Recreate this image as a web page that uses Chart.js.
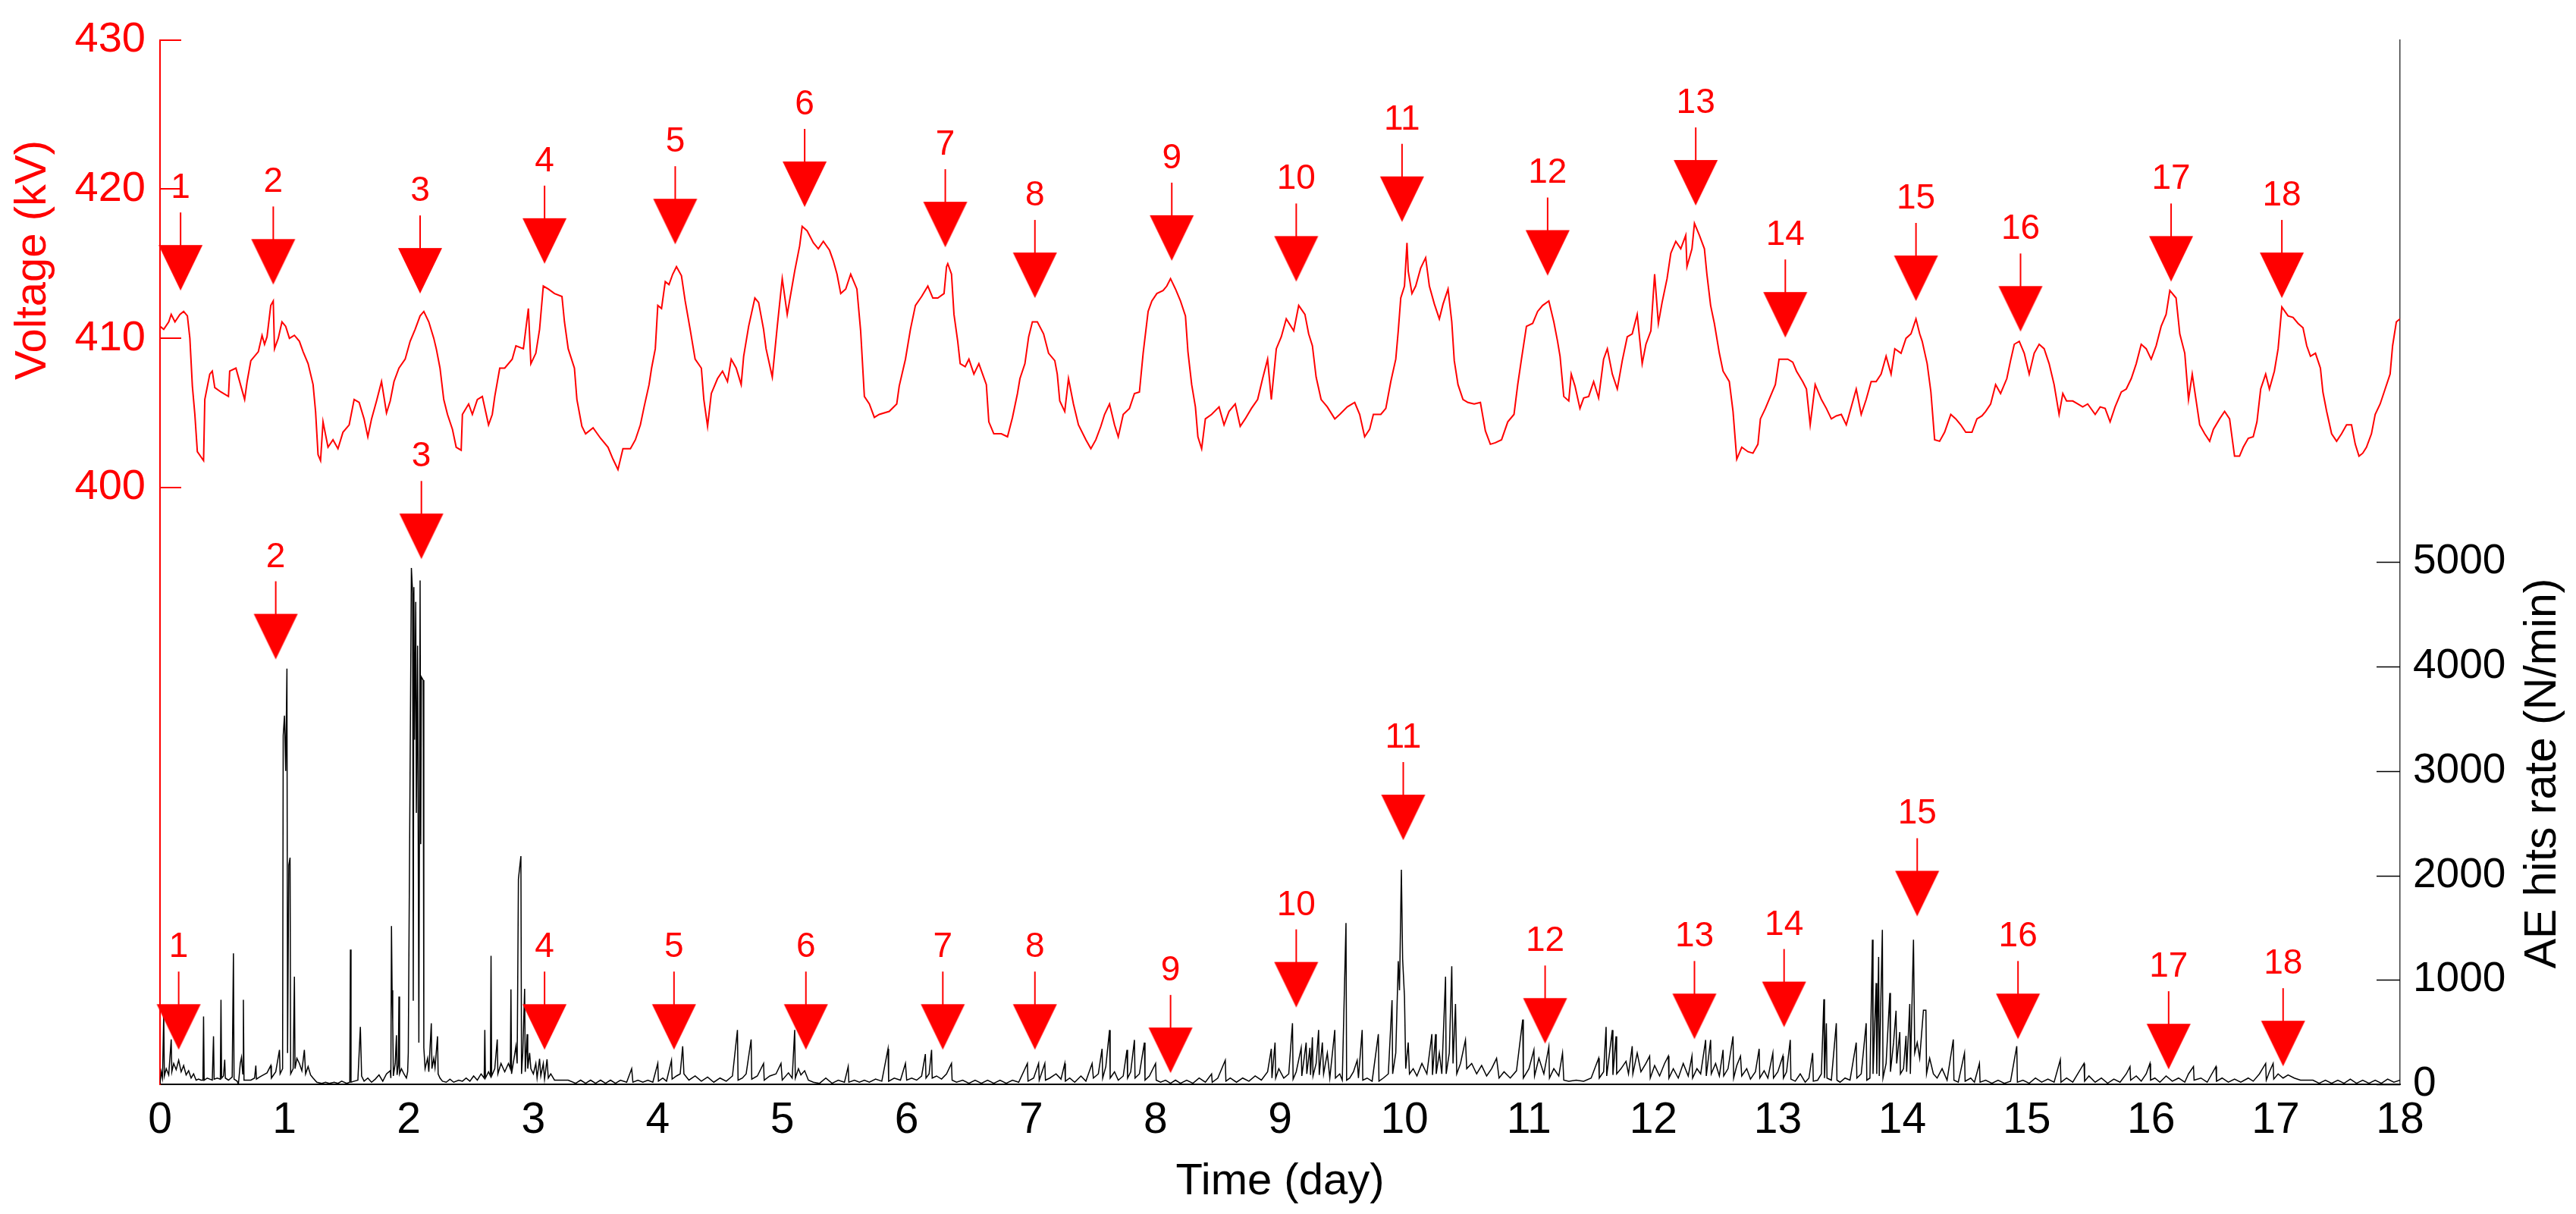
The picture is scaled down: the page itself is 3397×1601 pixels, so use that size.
<!DOCTYPE html>
<html>
<head>
<meta charset="utf-8">
<script src="https://cdn.jsdelivr.net/npm/chart.js@4.4.1/dist/chart.umd.min.js"></script>
<style>
  html, body { margin: 0; padding: 0; background: #fff; }
  #wrap { width: 3397px; height: 1601px; }
</style>
</head>
<body>
<div id="wrap"><canvas id="chart" width="3397" height="1601"></canvas></div>
<script>
// Voltage (kV)
const voltDay = [
  0.00, 0.03, 0.07, 0.09, 0.12, 0.16, 0.19, 0.22, 0.24, 0.26, 0.28, 0.30,
  0.35, 0.36, 0.40, 0.42, 0.44, 0.49, 0.55, 0.56, 0.61, 0.65, 0.68, 0.70,
  0.73, 0.79, 0.82, 0.84, 0.86, 0.89, 0.91, 0.92, 0.95, 0.98, 1.01, 1.04,
  1.08, 1.12, 1.15, 1.19, 1.23, 1.25, 1.27, 1.29, 1.31, 1.35, 1.39, 1.43,
  1.47, 1.52, 1.56, 1.60, 1.64, 1.67, 1.70, 1.74, 1.78, 1.82, 1.85, 1.88,
  1.92, 1.97, 2.01, 2.05, 2.09, 2.12, 2.16, 2.20, 2.22, 2.25, 2.28, 2.31,
  2.35, 2.38, 2.42, 2.43, 2.48, 2.51, 2.55, 2.59, 2.64, 2.67, 2.69, 2.73,
  2.77, 2.83, 2.86, 2.92, 2.96, 2.98, 3.02, 3.05, 3.08, 3.12, 3.17, 3.23,
  3.25, 3.28, 3.33, 3.35, 3.39, 3.42, 3.48, 3.54, 3.60, 3.64, 3.68, 3.72,
  3.78, 3.82, 3.86, 3.89, 3.93, 3.95, 3.98, 4.00, 4.03, 4.06, 4.09, 4.12,
  4.15, 4.19, 4.22, 4.26, 4.30, 4.35, 4.37, 4.40, 4.43, 4.48, 4.52, 4.56,
  4.59, 4.63, 4.67, 4.69, 4.73, 4.78, 4.81, 4.85, 4.87, 4.92, 4.96, 5.00,
  5.04, 5.10, 5.14, 5.16, 5.20, 5.25, 5.29, 5.33, 5.38, 5.41, 5.44, 5.47,
  5.51, 5.55, 5.60, 5.63, 5.66, 5.70, 5.74, 5.78, 5.86, 5.92, 5.94, 5.99,
  6.03, 6.07, 6.12, 6.17, 6.21, 6.25, 6.30, 6.32, 6.33, 6.36, 6.38, 6.41,
  6.43, 6.47, 6.50, 6.54, 6.58, 6.64, 6.66, 6.70, 6.76, 6.81, 6.85, 6.89,
  6.91, 6.95, 6.98, 7.01, 7.05, 7.10, 7.14, 7.19, 7.21, 7.23, 7.27, 7.30,
  7.34, 7.38, 7.44, 7.48, 7.52, 7.56, 7.59, 7.63, 7.67, 7.70, 7.74, 7.79,
  7.83, 7.87, 7.90, 7.94, 7.97, 8.01, 8.06, 8.09, 8.12, 8.16, 8.20, 8.24,
  8.26, 8.29, 8.32, 8.34, 8.37, 8.40, 8.45, 8.51, 8.55, 8.59, 8.64, 8.68,
  8.72, 8.77, 8.82, 8.86, 8.90, 8.93, 8.97, 9.01, 9.05, 9.11, 9.15, 9.20,
  9.23, 9.26, 9.29, 9.33, 9.38, 9.44, 9.48, 9.54, 9.60, 9.64, 9.68, 9.72,
  9.75, 9.81, 9.85, 9.89, 9.93, 9.95, 9.97, 10.00, 10.02, 10.03, 10.06, 10.09,
  10.13, 10.17, 10.20, 10.24, 10.28, 10.31, 10.35, 10.38, 10.40, 10.43, 10.47, 10.51,
  10.56, 10.61, 10.65, 10.69, 10.73, 10.78, 10.83, 10.88, 10.91, 10.94, 10.98, 11.03,
  11.07, 11.11, 11.16, 11.20, 11.23, 11.25, 11.28, 11.32, 11.34, 11.37, 11.41, 11.44,
  11.48, 11.52, 11.56, 11.60, 11.63, 11.67, 11.71, 11.75, 11.79, 11.83, 11.87, 11.91,
  11.94, 11.98, 12.01, 12.04, 12.07, 12.11, 12.14, 12.18, 12.22, 12.26, 12.27, 12.31,
  12.33, 12.37, 12.41, 12.43, 12.46, 12.49, 12.53, 12.56, 12.61, 12.64, 12.67, 12.71,
  12.76, 12.80, 12.84, 12.86, 12.90, 12.94, 12.98, 13.01, 13.08, 13.12, 13.15, 13.20,
  13.23, 13.26, 13.30, 13.35, 13.39, 13.43, 13.47, 13.51, 13.55, 13.59, 13.63, 13.67,
  13.71, 13.75, 13.79, 13.83, 13.87, 13.91, 13.94, 13.99, 14.03, 14.07, 14.11, 14.14,
  14.16, 14.20, 14.23, 14.26, 14.30, 14.34, 14.39, 14.43, 14.47, 14.51, 14.56, 14.60,
  14.64, 14.67, 14.71, 14.75, 14.79, 14.84, 14.87, 14.90, 14.94, 14.98, 15.02, 15.06,
  15.10, 15.14, 15.18, 15.22, 15.26, 15.29, 15.32, 15.37, 15.41, 15.45, 15.49, 15.55,
  15.59, 15.63, 15.67, 15.71, 15.76, 15.80, 15.84, 15.88, 15.92, 15.96, 16.00, 16.04,
  16.08, 16.12, 16.15, 16.20, 16.23, 16.27, 16.30, 16.33, 16.36, 16.39, 16.43, 16.47,
  16.50, 16.55, 16.59, 16.63, 16.67, 16.71, 16.74, 16.78, 16.82, 16.85, 16.88, 16.92,
  16.95, 16.99, 17.02, 17.05, 17.10, 17.14, 17.18, 17.22, 17.25, 17.28, 17.32, 17.36,
  17.38, 17.41, 17.45, 17.49, 17.53, 17.57, 17.61, 17.64, 17.67, 17.70, 17.73, 17.77,
  17.80, 17.84, 17.88, 17.92, 17.94, 17.97, 18.00
];
const voltKV = [
  410.8, 410.6, 411.1, 411.6, 411.1, 411.6, 411.8, 411.5, 410.0, 406.8, 404.9, 402.4,
  401.8, 405.9, 407.6, 407.8, 406.7, 406.4, 406.1, 407.8, 408.0, 406.8, 405.9, 407.1,
  408.5, 409.1, 410.2, 409.6, 410.1, 412.2, 412.5, 409.3, 410.0, 411.1, 410.8, 410.0,
  410.2, 409.8, 409.1, 408.3, 406.9, 405.1, 402.2, 401.8, 404.4, 402.7, 403.2, 402.6,
  403.7, 404.2, 405.9, 405.7, 404.6, 403.4, 404.6, 405.8, 407.1, 405.0, 405.8, 407.1,
  408.0, 408.6, 409.8, 410.6, 411.5, 411.8, 411.1, 410.0, 409.3, 408.0, 405.9, 404.9,
  403.9, 402.7, 402.5, 404.9, 405.6, 404.9, 405.9, 406.1, 404.2, 404.9, 406.1, 408.0,
  408.0, 408.6, 409.5, 409.3, 412.0, 408.3, 409.0, 410.6, 413.5, 413.3, 413.0, 412.8,
  411.1, 409.3, 408.0, 405.9, 404.1, 403.6, 404.0, 403.3, 402.7, 401.9, 401.2, 402.6,
  402.6, 403.2, 404.2, 405.4, 406.9, 408.0, 409.3, 412.2, 412.0, 413.8, 413.6, 414.3,
  414.8, 414.2, 412.5, 410.6, 408.6, 408.0, 405.9, 404.1, 406.3, 407.3, 407.8, 407.1,
  408.6, 408.0, 406.9, 408.8, 410.8, 412.7, 412.4, 410.6, 409.3, 407.4, 410.8, 414.0,
  411.6, 414.5, 416.2, 417.5, 417.2, 416.4, 416.0, 416.5, 415.9, 415.2, 414.3, 413.0,
  413.3, 414.3, 413.3, 410.5, 406.1, 405.6, 404.7, 404.9, 405.1, 405.6, 406.8, 408.6,
  410.6, 412.2, 412.8, 413.5, 412.7, 412.7, 413.0, 414.8, 415.0, 414.3, 411.6, 409.8,
  408.3, 408.1, 408.6, 407.6, 408.3, 406.9, 404.4, 403.6, 403.6, 403.4, 404.7, 406.3,
  407.3, 408.3, 410.1, 411.1, 411.1, 410.3, 409.0, 408.5, 407.6, 405.8, 405.1, 407.3,
  405.6, 404.2, 403.2, 402.6, 403.2, 404.1, 404.9, 405.6, 404.2, 403.4, 404.9, 405.3,
  406.3, 406.4, 409.0, 411.8, 412.5, 413.0, 413.2, 413.5, 414.0, 413.3, 412.5, 411.5,
  409.1, 406.9, 405.4, 403.4, 402.6, 404.6, 404.9, 405.4, 404.2, 405.1, 405.6, 404.1,
  404.6, 405.3, 405.9, 407.3, 408.6, 405.9, 409.3, 410.1, 411.3, 410.5, 412.2, 411.6,
  410.3, 409.5, 407.4, 405.9, 405.4, 404.6, 404.9, 405.4, 405.7, 404.9, 403.4, 403.9,
  404.9, 404.9, 405.3, 407.1, 408.6, 410.5, 412.7, 413.5, 416.4, 414.5, 413.0, 413.5,
  414.7, 415.4, 413.5, 412.3, 411.3, 412.3, 413.3, 411.1, 408.5, 406.9, 405.9, 405.7,
  405.6, 405.7, 403.8, 402.9, 403.0, 403.2, 404.4, 404.9, 406.9, 408.6, 410.8, 411.0,
  411.8, 412.2, 412.5, 411.1, 409.8, 408.8, 406.1, 405.8, 407.6, 406.8, 405.3, 406.0,
  406.1, 407.1, 406.0, 408.6, 409.3, 407.6, 406.6, 408.5, 410.1, 410.3, 411.6, 408.3,
  409.6, 410.5, 414.3, 411.0, 412.4, 414.0, 415.7, 416.5, 416.0, 416.9, 414.8, 416.0,
  417.7, 416.9, 416.0, 414.3, 412.2, 411.0, 409.0, 407.8, 407.1, 405.1, 401.9, 402.7,
  402.4, 402.3, 402.9, 404.6, 405.3, 406.1, 406.9, 408.6, 408.6, 408.4, 407.8, 407.1,
  406.6, 404.2, 406.9, 405.9, 405.3, 404.6, 404.8, 404.9, 404.2, 405.4, 406.6, 404.9,
  405.9, 407.1, 407.1, 407.6, 408.8, 407.6, 409.3, 409.0, 410.0, 410.3, 411.3, 410.3,
  409.8, 408.3, 406.4, 403.2, 403.1, 403.7, 404.9, 404.6, 404.2, 403.7, 403.7, 404.6,
  404.8, 405.1, 405.6, 406.9, 406.3, 407.3, 408.5, 409.6, 409.8, 409.0, 407.6, 409.0,
  409.6, 409.3, 408.3, 406.9, 404.9, 406.3, 405.8, 405.8, 405.6, 405.4, 405.6, 404.9,
  405.4, 405.3, 404.4, 405.4, 406.4, 406.6, 407.3, 408.3, 409.6, 409.3, 408.6, 409.5,
  410.8, 411.6, 413.2, 412.7, 410.3, 409.0, 405.9, 407.6, 405.9, 404.2, 403.6, 403.1,
  403.9, 404.6, 405.1, 404.6, 402.1, 402.1, 402.7, 403.3, 403.4, 404.4, 406.6, 407.6,
  406.6, 407.8, 409.3, 412.1, 411.5, 411.4, 411.0, 410.7, 409.5, 408.8, 409.0, 408.0,
  406.4, 405.1, 403.6, 403.1, 403.6, 404.2, 404.2, 402.9, 402.1, 402.3, 402.7, 403.6,
  404.9, 405.6, 406.6, 407.6, 409.5, 411.1, 411.3
];

// AE hits rate (N/min)
const aeDay = [
  0.00, 0.01, 0.02, 0.03, 0.035, 0.05, 0.07, 0.09, 0.095, 0.11, 0.13, 0.15,
  0.17, 0.19, 0.21, 0.23, 0.25, 0.27, 0.29, 0.31, 0.33, 0.345, 0.35, 0.355,
  0.38, 0.40, 0.42, 0.43, 0.435, 0.46, 0.485, 0.49, 0.495, 0.51, 0.52, 0.525,
  0.55, 0.58, 0.59, 0.595, 0.62, 0.63, 0.645, 0.655, 0.665, 0.67, 0.675, 0.70,
  0.73, 0.76, 0.77, 0.775, 0.80, 0.83, 0.86, 0.89, 0.895, 0.93, 0.96, 0.965,
  0.985, 0.99, 1.00, 1.01, 1.02, 1.025, 1.035, 1.045, 1.05, 1.07, 1.08, 1.085,
  1.10, 1.12, 1.14, 1.16, 1.17, 1.19, 1.21, 1.23, 1.26, 1.30, 1.33, 1.36,
  1.40, 1.43, 1.46, 1.50, 1.525, 1.53, 1.535, 1.56, 1.59, 1.61, 1.62, 1.64,
  1.67, 1.70, 1.73, 1.76, 1.79, 1.82, 1.85, 1.855, 1.86, 1.865, 1.87, 1.875,
  1.89, 1.90, 1.905, 1.915, 1.92, 1.925, 1.94, 1.96, 1.98, 1.99, 1.995, 2.02,
  2.03, 2.035, 2.04, 2.045, 2.055, 2.06, 2.07, 2.08, 2.09, 2.095, 2.10, 2.115,
  2.12, 2.13, 2.15, 2.16, 2.18, 2.185, 2.20, 2.21, 2.23, 2.235, 2.25, 2.27,
  2.30, 2.33, 2.36, 2.40, 2.43, 2.46, 2.49, 2.52, 2.55, 2.58, 2.605, 2.61,
  2.615, 2.64, 2.655, 2.66, 2.665, 2.69, 2.71, 2.715, 2.74, 2.77, 2.80, 2.815,
  2.82, 2.825, 2.845, 2.86, 2.87, 2.88, 2.90, 2.905, 2.915, 2.93, 2.935, 2.95,
  2.955, 2.97, 2.98, 3.00, 3.02, 3.03, 3.05, 3.06, 3.08, 3.09, 3.11, 3.12,
  3.14, 3.17, 3.22, 3.28, 3.34, 3.38, 3.42, 3.46, 3.50, 3.54, 3.58, 3.62,
  3.66, 3.70, 3.75, 3.79, 3.80, 3.84, 3.88, 3.92, 3.96, 4.00, 4.005, 4.04,
  4.07, 4.11, 4.115, 4.15, 4.18, 4.20, 4.21, 4.25, 4.30, 4.35, 4.40, 4.45,
  4.50, 4.55, 4.60, 4.64, 4.645, 4.68, 4.71, 4.75, 4.755, 4.80, 4.85, 4.855,
  4.90, 4.95, 4.99, 5.00, 5.05, 5.08, 5.10, 5.105, 5.13, 5.15, 5.18, 5.21,
  5.25, 5.30, 5.35, 5.40, 5.45, 5.50, 5.53, 5.535, 5.58, 5.62, 5.66, 5.70,
  5.75, 5.80, 5.85, 5.855, 5.90, 5.95, 5.99, 6.00, 6.04, 6.08, 6.12, 6.15,
  6.155, 6.18, 6.20, 6.205, 6.24, 6.28, 6.32, 6.36, 6.365, 6.40, 6.45, 6.50,
  6.55, 6.60, 6.65, 6.70, 6.75, 6.80, 6.85, 6.90, 6.97, 6.975, 7.02, 7.06,
  7.065, 7.11, 7.115, 7.15, 7.20, 7.24, 7.27, 7.275, 7.31, 7.35, 7.40, 7.44,
  7.49, 7.50, 7.54, 7.57, 7.575, 7.60, 7.63, 7.635, 7.67, 7.70, 7.74, 7.77,
  7.775, 7.80, 7.83, 7.835, 7.87, 7.91, 7.915, 7.95, 8.00, 8.005, 8.04, 8.08,
  8.12, 8.16, 8.20, 8.25, 8.30, 8.35, 8.40, 8.45, 8.455, 8.50, 8.56, 8.565,
  8.60, 8.65, 8.70, 8.75, 8.80, 8.85, 8.90, 8.93, 8.935, 8.96, 8.965, 8.99,
  9.03, 9.07, 9.10, 9.105, 9.13, 9.17, 9.175, 9.21, 9.215, 9.24, 9.245, 9.26,
  9.265, 9.29, 9.31, 9.315, 9.34, 9.35, 9.38, 9.40, 9.44, 9.445, 9.48, 9.50,
  9.53, 9.535, 9.56, 9.59, 9.62, 9.63, 9.66, 9.665, 9.70, 9.74, 9.79, 9.795,
  9.83, 9.87, 9.90, 9.905, 9.93, 9.95, 9.96, 9.975, 9.985, 10.00, 10.01, 10.03,
  10.04, 10.07, 10.10, 10.14, 10.18, 10.22, 10.225, 10.25, 10.255, 10.28, 10.30, 10.33,
  10.335, 10.36, 10.38, 10.39, 10.41, 10.42, 10.45, 10.49, 10.50, 10.54, 10.58, 10.62,
  10.66, 10.70, 10.74, 10.76, 10.80, 10.85, 10.90, 10.95, 10.955, 11.00, 11.04, 11.045,
  11.08, 11.12, 11.16, 11.165, 11.20, 11.24, 11.27, 11.28, 11.32, 11.38, 11.44, 11.50,
  11.56, 11.565, 11.60, 11.62, 11.625, 11.67, 11.675, 11.70, 11.705, 11.74, 11.78, 11.80,
  11.83, 11.835, 11.87, 11.90, 11.94, 11.97, 11.975, 12.01, 12.05, 12.09, 12.12, 12.125,
  12.16, 12.20, 12.24, 12.28, 12.31, 12.315, 12.35, 12.38, 12.42, 12.425, 12.46, 12.465,
  12.50, 12.53, 12.56, 12.565, 12.60, 12.64, 12.645, 12.67, 12.70, 12.71, 12.75, 12.78,
  12.82, 12.85, 12.855, 12.89, 12.92, 12.96, 12.965, 13.00, 13.04, 13.045, 13.07, 13.10,
  13.105, 13.14, 13.18, 13.22, 13.25, 13.28, 13.285, 13.32, 13.35, 13.37, 13.375, 13.39,
  13.395, 13.43, 13.47, 13.475, 13.50, 13.54, 13.58, 13.63, 13.635, 13.67, 13.71, 13.715,
  13.74, 13.76, 13.765, 13.79, 13.795, 13.81, 13.815, 13.84, 13.845, 13.87, 13.90, 13.905,
  13.93, 13.95, 13.955, 13.98, 13.985, 14.01, 14.03, 14.035, 14.06, 14.065, 14.09, 14.10,
  14.12, 14.14, 14.17, 14.19, 14.195, 14.22, 14.25, 14.28, 14.32, 14.36, 14.41, 14.415,
  14.45, 14.50, 14.505, 14.55, 14.58, 14.62, 14.625, 14.67, 14.72, 14.77, 14.82, 14.87,
  14.92, 14.925, 14.97, 15.02, 15.07, 15.12, 15.17, 15.22, 15.27, 15.275, 15.32, 15.37,
  15.42, 15.46, 15.465, 15.50, 15.55, 15.60, 15.65, 15.70, 15.75, 15.80, 15.83, 15.835,
  15.88, 15.92, 15.96, 15.99, 15.995, 16.03, 16.07, 16.12, 16.17, 16.22, 16.27, 16.30,
  16.34, 16.345, 16.40, 16.45, 16.52, 16.525, 16.57, 16.62, 16.67, 16.72, 16.78, 16.82,
  16.87, 16.92, 16.925, 16.95, 16.98, 16.985, 17.02, 17.06, 17.10, 17.15, 17.20, 17.25,
  17.30, 17.35, 17.40, 17.45, 17.50, 17.55, 17.60, 17.65, 17.70, 17.75, 17.80, 17.85,
  17.90, 17.95, 18.00
];
const aeRate = [
  0, 120, 60, 670, 80, 150, 90, 430, 120, 200, 140, 230,
  120, 180, 90, 130, 60, 100, 40, 50, 40, 40, 650, 40,
  60, 50, 40, 460, 50, 60, 50, 810, 60, 80, 235, 60,
  40, 70, 1255, 50, 30, 0, 200, 260, 100, 810, 40, 40,
  40, 60, 180, 50, 70, 90, 110, 180, 60, 120, 330, 100,
  150, 3340, 3530, 3000, 3980, 300, 2100, 2170, 100, 150, 1030, 150,
  250, 200, 130, 330, 100, 170, 90, 60, 20, 10, 20, 10,
  20, 10, 30, 10, 20, 1290, 20, 30, 40, 550, 80, 30,
  60, 20, 50, 90, 30, 100, 130, 60, 1515, 900, 600, 80,
  200, 470, 90, 180, 840, 100, 150, 100, 60, 120, 300, 4944,
  4700, 800, 4760, 3300, 4620, 2600, 4200, 400, 4825, 2300, 3900, 3870,
  350, 150, 250, 120, 585, 150, 250, 160, 460, 100, 60, 30,
  20, 50, 20, 40, 30, 60, 30, 80, 40, 100, 60, 520,
  60, 120, 80, 1230, 80, 150, 430, 100, 200, 120, 200, 150,
  910, 100, 250, 365, 200, 1965, 2185, 100, 300, 915, 120, 480,
  150, 300, 150, 100, 200, 60, 245, 80, 200, 50, 240, 60,
  100, 40, 40, 40, 10, 40, 10, 40, 10, 40, 10, 40,
  10, 40, 20, 150, 20, 40, 20, 40, 20, 200, 30, 60,
  30, 230, 50, 80, 100, 365, 100, 40, 80, 30, 70, 20,
  60, 30, 80, 520, 40, 60, 100, 430, 50, 80, 200, 40,
  80, 100, 200, 40, 110, 60, 520, 60, 150, 90, 130, 40,
  20, 10, 60, 10, 40, 20, 170, 20, 40, 20, 40, 20,
  50, 30, 340, 30, 60, 40, 200, 40, 60, 40, 80, 290,
  60, 100, 330, 60, 80, 50, 100, 200, 40, 20, 40, 10,
  40, 10, 40, 10, 40, 10, 40, 20, 200, 30, 60, 200,
  40, 200, 40, 60, 100, 50, 200, 30, 60, 20, 80, 30,
  200, 60, 100, 340, 60, 170, 520, 60, 120, 40, 80, 330,
  60, 120, 425, 60, 100, 400, 40, 80, 200, 40, 20, 40,
  10, 40, 10, 40, 10, 60, 20, 100, 20, 60, 230, 30,
  60, 20, 60, 30, 80, 40, 120, 340, 60, 400, 60, 150,
  60, 100, 585, 50, 120, 350, 80, 400, 100, 350, 90, 450,
  80, 200, 520, 90, 400, 100, 300, 60, 520, 60, 100, 40,
  1545, 40, 60, 120, 230, 60, 520, 40, 60, 30, 480, 30,
  60, 100, 805, 100, 300, 1180, 900, 2055, 1200, 840, 150, 400,
  100, 150, 80, 200, 100, 480, 90, 480, 100, 300, 100, 1030,
  100, 300, 1130, 200, 770, 100, 200, 425, 150, 200, 100, 180,
  80, 150, 250, 60, 120, 60, 130, 620, 60, 150, 330, 80,
  250, 100, 360, 60, 150, 80, 300, 40, 30, 40, 30, 60,
  250, 60, 120, 550, 80, 520, 90, 460, 100, 150, 220, 100,
  365, 100, 300, 120, 200, 270, 60, 180, 80, 200, 270, 60,
  150, 60, 200, 80, 270, 60, 150, 100, 425, 80, 425, 100,
  200, 80, 330, 80, 150, 460, 60, 180, 270, 80, 150, 50,
  120, 340, 60, 130, 60, 300, 60, 120, 270, 60, 120, 425,
  50, 30, 100, 20, 60, 300, 30, 40, 100, 815, 60, 585,
  60, 40, 585, 40, 20, 60, 40, 400, 60, 100, 585, 40,
  60, 1385, 100, 970, 100, 1220, 80, 1480, 60, 200, 875, 120,
  400, 705, 200, 500, 100, 150, 465, 120, 770, 100, 1385, 300,
  400, 250, 710, 710, 100, 250, 100, 60, 150, 40, 430, 40,
  20, 300, 30, 60, 20, 200, 20, 40, 10, 40, 10, 30,
  365, 20, 40, 10, 60, 20, 50, 20, 235, 20, 60, 20,
  120, 200, 30, 80, 20, 60, 10, 50, 20, 100, 170, 40,
  80, 30, 100, 200, 40, 60, 20, 80, 30, 60, 20, 100,
  170, 40, 60, 20, 170, 30, 60, 20, 50, 20, 60, 30,
  100, 200, 40, 120, 200, 50, 100, 60, 90, 60, 40, 40,
  40, 10, 40, 10, 40, 10, 50, 10, 40, 10, 40, 10,
  50, 20, 40
];

// numbered event arrows (tip positions)
const arrowLabels = ['1', '2', '3', '4', '5', '6', '7', '8', '9', '10', '11', '12', '13', '14', '15', '16', '17', '18'];
const voltArrowDay = [0.165, 0.91, 2.09, 3.09, 4.14, 5.18, 6.31, 7.03, 8.13, 9.13, 9.98, 11.15, 12.34, 13.06, 14.11, 14.95, 16.16, 17.05];
const voltArrowKV = [413.2, 413.6, 413.0, 415.0, 416.3, 418.8, 416.1, 412.7, 415.2, 413.8, 417.8, 414.2, 418.9, 410.05, 412.5, 410.45, 413.8, 412.7];
const aeArrowDay = [0.15, 0.93, 2.10, 3.09, 4.13, 5.19, 6.29, 7.03, 8.12, 9.13, 9.99, 11.13, 12.33, 13.05, 14.12, 14.93, 16.14, 17.06];
const aeArrowRate = [332, 4069, 5029, 332, 332, 332, 332, 332, 108, 736, 2338, 390, 433, 548, 1609, 433, 144, 173];

// axis ticks
const dayTicks = [0, 1, 2, 3, 4, 5, 6, 7, 8, 9, 10, 11, 12, 13, 14, 15, 16, 17, 18];
const voltTicks = [400, 410, 420, 430];
const aeTicks = [0, 1000, 2000, 3000, 4000, 5000];

const RED = '#ff0000';
const SANS = '"Liberation Sans", Arial, sans-serif';
const NARROW = '"Liberation Sans Narrow", "Liberation Sans", Arial, sans-serif';

// arrow glyph: stem + down triangle, tip sits at the canvas centre
function makeArrow() {
  const c = document.createElement('canvas');
  c.width = 60;
  c.height = 208;
  const g = c.getContext('2d');
  g.fillStyle = RED;
  g.fillRect(29, 1, 2, 44);
  g.beginPath();
  g.moveTo(1, 44);
  g.lineTo(59, 44);
  g.lineTo(30, 104);
  g.closePath();
  g.fill();
  return c;
}
const arrowGlyph = makeArrow();

function toPoints(xs, ys) {
  return xs.map((x, i) => ({ x: x, y: ys[i] }));
}

const decor = {
  id: 'decor',
  afterDatasetsDraw(chart) {
    const ctx = chart.ctx;
    const a = chart.chartArea;
    const yV = chart.scales.yV;
    const yAE = chart.scales.yAE;
    ctx.save();

    // inner tick marks
    ctx.strokeStyle = RED;
    ctx.lineWidth = 2;
    voltTicks.forEach(v => {
      const y = Math.round(yV.getPixelForValue(v));
      ctx.beginPath();
      ctx.moveTo(a.left, y);
      ctx.lineTo(a.left + 28, y);
      ctx.stroke();
    });
    ctx.strokeStyle = '#000';
    ctx.lineWidth = 1.5;
    aeTicks.forEach(v => {
      const y = Math.round(yAE.getPixelForValue(v)) + 0.5;
      ctx.beginPath();
      ctx.moveTo(a.right - 31, y);
      ctx.lineTo(a.right, y);
      ctx.stroke();
    });

    // arrow numbers
    ctx.fillStyle = RED;
    ctx.font = '46px ' + SANS;
    ctx.textAlign = 'center';
    ctx.textBaseline = 'alphabetic';
    chart.data.datasets.forEach((ds, i) => {
      if (!ds.isArrow) return;
      chart.getDatasetMeta(i).data.forEach((pt, j) => {
        ctx.fillText(arrowLabels[j], pt.x, pt.y - 122);
      });
    });

    // axis titles
    ctx.font = '58px ' + SANS;
    ctx.fillStyle = RED;
    ctx.save();
    ctx.translate(60, 343);
    ctx.rotate(-Math.PI / 2);
    ctx.fillText('Voltage (kV)', 0, 0);
    ctx.restore();

    ctx.fillStyle = '#000';
    ctx.font = '59px ' + SANS;
    ctx.save();
    ctx.translate(3370, 1020);
    ctx.rotate(-Math.PI / 2);
    ctx.fillText('AE hits rate (N/min)', 0, 0);
    ctx.restore();

    ctx.font = '58px ' + SANS;
    ctx.fillText('Time (day)', (a.left + a.right) / 2, 1575);
    ctx.restore();
  }
};

window.onload = function() {
  const ctx = document.getElementById('chart').getContext('2d');
  new Chart(ctx, {
    type: 'line',
    data: {
      datasets: [
        {
          isArrow: true,
          data: toPoints(voltArrowDay, voltArrowKV),
          yAxisID: 'yV',
          showLine: false,
          pointStyle: arrowGlyph,
          pointRadius: 5,
          clip: false,
          order: 0
        },
        {
          isArrow: true,
          data: toPoints(aeArrowDay, aeArrowRate),
          yAxisID: 'yAE',
          showLine: false,
          pointStyle: arrowGlyph,
          pointRadius: 5,
          clip: false,
          order: 0
        },
        {
          label: 'Voltage (kV)',
          data: toPoints(voltDay, voltKV),
          yAxisID: 'yV',
          borderColor: RED,
          borderWidth: 2,
          pointRadius: 0,
          tension: 0,
          order: 1
        },
        {
          label: 'AE hits rate (N/min)',
          data: toPoints(aeDay, aeRate),
          yAxisID: 'yAE',
          borderColor: '#000',
          borderWidth: 1.5,
          pointRadius: 0,
          tension: 0,
          order: 2
        }
      ]
    },
    options: {
      responsive: false,
      animation: false,
      events: [],
      layout: { padding: { top: 40, left: 0, right: 0, bottom: 0 } },
      plugins: {
        legend: { display: false },
        tooltip: { enabled: false }
      },
      scales: {
        x: {
          type: 'linear',
          position: 'bottom',
          min: 0,
          max: 18,
          afterBuildTicks: s => { s.ticks = dayTicks.map(v => ({ value: v })); },
          afterFit: s => { s.height = 171; },
          grid: { display: false, drawTicks: false },
          border: { display: true, color: '#000', width: 2 },
          ticks: {
            color: '#000',
            font: { family: NARROW, size: 57 },
            padding: 14,
            maxRotation: 0,
            autoSkip: false,
            callback: v => String(v)
          }
        },
        yV: {
          type: 'linear',
          position: 'left',
          min: 360,
          max: 430,
          afterBuildTicks: s => { s.ticks = voltTicks.map(v => ({ value: v })); },
          afterFit: s => { s.width = 211; },
          grid: { display: false, drawTicks: false },
          border: { display: true, color: RED, width: 2 },
          ticks: {
            color: RED,
            font: { family: SANS, size: 56 },
            padding: 19,
            callback: v => String(v)
          }
        },
        yAE: {
          type: 'linear',
          position: 'right',
          min: 0,
          max: 10000,
          afterBuildTicks: s => { s.ticks = aeTicks.map(v => ({ value: v })); },
          afterFit: s => { s.width = 232; },
          grid: { display: false, drawTicks: false },
          border: { display: true, color: '#404040', width: 1.5 },
          ticks: {
            color: '#000',
            font: { family: SANS, size: 55 },
            padding: 17,
            callback: v => String(v)
          }
        }
      }
    },
    plugins: [decor]
  });
};
</script>
</body>
</html>
